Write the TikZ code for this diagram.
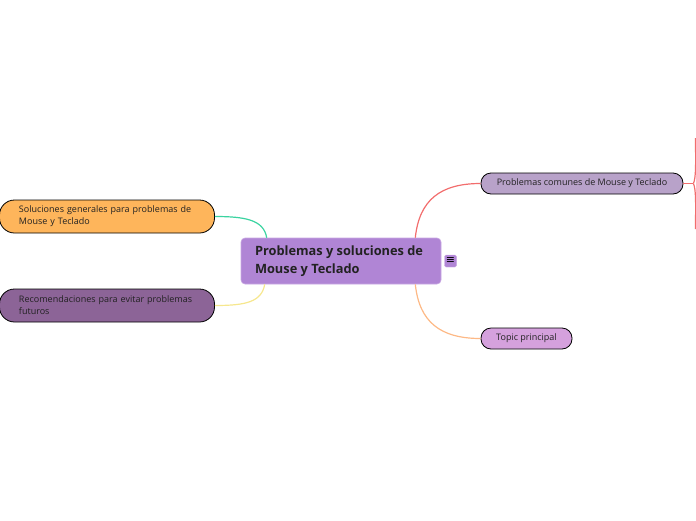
\documentclass[tikz,border=0pt]{standalone}
\usepackage{fontspec}
\setmainfont{Open Sans}
\newfontfamily\symfont{DejaVu Sans}
\usepackage{xcolor}
\definecolor{mainviolet}{HTML}{B085D5}
\definecolor{mainedge}{HTML}{C9A8E3}
\definecolor{lilacgray}{HTML}{B8A2C9}
\definecolor{orchid}{HTML}{D5A1DD}
\definecolor{softorange}{HTML}{FEB55B}
\definecolor{plum}{HTML}{8C6497}
\definecolor{inkdark}{HTML}{222222}
\definecolor{linkgreen}{HTML}{3AD3A0}
\definecolor{linkyellow}{HTML}{F6E78E}
\definecolor{linkred}{HTML}{F26D6D}
\definecolor{linkorange}{HTML}{FDB986}
\usetikzlibrary{positioning}
\tikzset{
  mainbox/.style ={rectangle, rounded corners=4pt, draw=mainedge, line width=0.6pt, fill=mainviolet,
                   text=inkdark, align=left, inner xsep=14pt, minimum width=200pt, minimum height=46pt,
                   font=\fontsize{12.8}{18.5}\selectfont\bfseries},
  topicbox/.style={rectangle, rounded corners=10pt, draw=black, line width=0.8pt, text=inkdark,
                   align=center, inner xsep=10pt, minimum height=21pt, font=\fontsize{9}{12}\selectfont},
  sidebox/.style ={rectangle, rounded corners=15pt, draw=black, line width=0.8pt, text=inkdark,
                   align=left, text width=176pt, inner xsep=19.5pt, minimum height=33pt,
                   font=\fontsize{9}{12}\selectfont},
  menubox/.style ={rectangle, rounded corners=1.5pt, fill=mainviolet, draw=mainedge, line width=0.4pt,
                   inner sep=0pt, minimum size=12pt, font=\symfont\fontsize{11}{11}\selectfont},
  link/.style    ={line width=1.2pt},
}

\begin{document}
\begin{tikzpicture}[x=1pt, y=-1pt]
  \useasboundingbox (0,0) rectangle (696,520);
  % central topic
  \node[mainbox] (main) at (341,261) {\raisebox{-1.5pt}{\parbox{172pt}{Problemas y soluciones de\\Mouse y Teclado}}};
  \node[menubox, right=3pt of main] (menu) {≡};
  % right side
  \node[topicbox, fill=lilacgray, minimum width=202pt] (comunes) at (582,183.5) {Problemas comunes de Mouse y Teclado};
  \node[topicbox, fill=orchid, minimum width=91pt] (topic) at (526.5,338.5) {Topic principal};
  % left side
  \node[sidebox, fill=softorange] (soluciones) at (107,216.5) {Soluciones generales para problemas de\\Mouse y Teclado};
  \node[sidebox, fill=plum] (recomend) at (107,305.5) {Recomendaciones para evitar problemas\\futuros};
  % connectors
  \draw[link, linkred] ([xshift=-26pt]main.north east) .. controls +(4,-38) and +(-40,0) .. (comunes.west);
  \draw[link, linkorange] ([xshift=-26pt]main.south east) .. controls +(4,38) and +(-40,0) .. (topic.west);
  \draw[link, linkgreen] ([xshift=26pt]main.north west) .. controls +(-3,-18) and +(30,0) .. (soluciones.east);
  \draw[link, linkyellow] ([xshift=24pt]main.south west) .. controls +(-3,18) and +(30,0) .. (recomend.east);
  % branch leaving the picture on the right
  \draw[link, linkred] (comunes.east) -- ++(10,0) coordinate (fork);
  \draw[link, linkred] (fork) .. controls +(3,-6) and +(0,20) .. (695.5,138);
  \draw[link, linkred] (fork) .. controls +(3,6) and +(0,-20) .. (695.5,229);
\end{tikzpicture}
\end{document}
